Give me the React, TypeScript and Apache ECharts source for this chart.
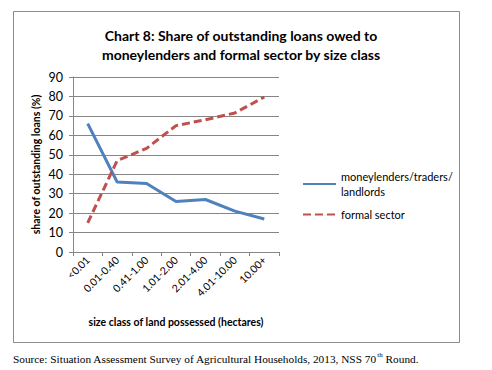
import React, { useEffect, useRef } from "react";
import * as echarts from "echarts";

const categories = ["<0.01", "0.01-0.40", "0.41-1.00", "1.01-2.00", "2.01-4.00", "4.01-10.00", "10.00+"];
const moneylenders = [66, 36, 35.2, 26, 27, 21, 17];
const formalSector = [15, 47, 53.3, 65, 68, 71.5, 79.7];
const seriesNames = ["moneylenders/traders/\nlandlords", "formal sector"];
const yTicks = { min: 0, max: 90, interval: 10 };

const FONT = "Lato, 'Open Sans', sans-serif";
const SERIF = "'Liberation Serif', serif";

export default function App() {
  const ref = useRef<HTMLDivElement>(null);
  useEffect(() => {
    if (!ref.current) return;
    const chart = echarts.init(ref.current, null, { renderer: "svg" });
    chart.setOption({
      animation: false,
      backgroundColor: "#fff",
      title: {
        text: "Chart 8: Share of outstanding loans owed to\nmoneylenders and formal sector by size class",
        left: 236,
        textAlign: "center",
        top: 21,
        textStyle: { fontFamily: FONT, fontSize: 14, fontWeight: "bold", color: "#000", lineHeight: 19 },
      },
      graphic: [
        {
          type: "rect",
          shape: { x: 13.5, y: 11.5, width: 446, height: 331 },
          style: { fill: "none", stroke: "#8c8c8c", lineWidth: 1 },
          silent: true,
        },
        {
          type: "text",
          x: 13,
          y: 351,
          style: {
            text: "{a|Source: Situation Assessment Survey of Agricultural Households, 2013, NSS 70}{s|th}{a| Round.}",
            rich: {
              a: { fontFamily: SERIF, fontSize: 11.3, fill: "#000", verticalAlign: "bottom", lineHeight: 13 },
              s: { fontFamily: SERIF, fontSize: 7, fill: "#000", verticalAlign: "top", lineHeight: 13 },
            },
          },
        },
      ],
      legend: {
        orient: "vertical",
        left: 302,
        top: 169,
        padding: 0,
        itemWidth: 33,
        itemHeight: 10,
        itemGap: 8,
        data: seriesNames,
        itemStyle: { opacity: 0 },
        textStyle: { fontFamily: FONT, fontSize: 11, color: "#000", lineHeight: 15 },
      },
      grid: { left: 73, right: 213, top: 77, bottom: 118 },
      xAxis: {
        type: "category",
        data: categories,
        boundaryGap: true,
        axisLine: { lineStyle: { color: "#868686" } },
        axisTick: { show: true, alignWithLabel: false, length: 4, lineStyle: { color: "#868686" } },
        axisLabel: { rotate: 45, fontFamily: FONT, fontSize: 10.5, color: "#000", margin: 6, interval: 0 },
        name: "size class of land possessed (hectares)",
        nameLocation: "middle",
        nameGap: 64,
        nameTextStyle: { fontFamily: FONT, fontSize: 10.5, fontWeight: "bold", color: "#000" },
      },
      yAxis: {
        type: "value",
        min: yTicks.min,
        max: yTicks.max,
        interval: yTicks.interval,
        axisLine: { show: true, lineStyle: { color: "#868686" } },
        axisTick: { show: true, length: 4, lineStyle: { color: "#868686" } },
        splitLine: { lineStyle: { color: "#868686", width: 1 } },
        axisLabel: { fontFamily: FONT, fontSize: 12.5, color: "#000", margin: 10 },
        name: "share of outstanding loans (%)",
        nameLocation: "middle",
        nameGap: 32,
        nameTextStyle: { fontFamily: FONT, fontSize: 10.5, fontWeight: "bold", color: "#000" },
      },
      series: [
        {
          name: seriesNames[0],
          type: "line",
          data: moneylenders,
          symbol: "none",
          lineStyle: { color: "#4F81BD", width: 3 },
          itemStyle: { color: "#4F81BD" },
        },
        {
          name: seriesNames[1],
          type: "line",
          data: formalSector,
          symbol: "none",
          lineStyle: { color: "#C0504D", width: 3, type: [8, 4] },
          itemStyle: { color: "#C0504D" },
        },
      ],
    });
    return () => chart.dispose();
  }, []);
  return <div ref={ref} style={{ position: "absolute", left: 0, top: 0, width: 492, height: 370 }} />;
}
